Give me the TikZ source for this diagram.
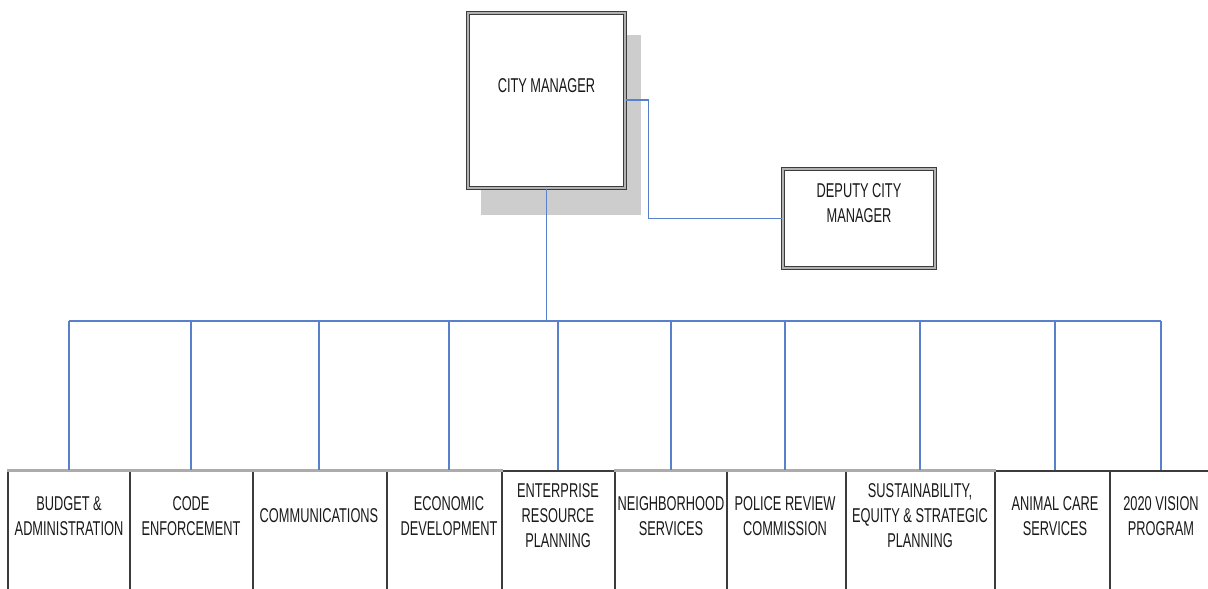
\documentclass[tikz,border=0pt]{standalone}
\usepackage{fontspec}
\setmainfont[FakeStretch=0.64]{Liberation Sans}
\begin{document}
\definecolor{linkblue}{RGB}{88,128,204}
\definecolor{frame}{RGB}{60,60,60}
\definecolor{cmshadow}{RGB}{205,205,205}
\begin{tikzpicture}[x=1pt,y=-1pt,
  lbl/.style={align=center,inner sep=0pt,font=\fontsize{20}{25}\selectfont,text=black!90},
  link/.style={draw=linkblue,line width=1.3pt},
  topbox/.style={draw=frame,fill=white,double=gray!60,double distance=2.2pt,line width=1.2pt,inner sep=0pt},
  unitbox/.style={draw=frame,line width=1.4pt,inner sep=0pt,minimum height=130pt},
  graytop/.style={draw=gray!65,line width=3pt}]
\useasboundingbox (0,0) rectangle (1208,589);
\clip (0,0) rectangle (1208,589);

% city manager with drop shadow
\fill[cmshadow] (481,35) rectangle (641,215);
\node[topbox,minimum width=157pt,minimum height=175pt] (cm) at (546.5,100.5) {};
\node[lbl] (cmt) at (546.5,86) {CITY MANAGER};

% deputy
\node[topbox,minimum width=152pt,minimum height=99pt] (dcm) at (859,218.5) {};
\node[lbl] (dcmt) at (859,203) {DEPUTY CITY\\MANAGER};

% units: boxes run past the lower edge
\node[unitbox,minimum width=122pt] (b1) at (69,536) {};
\node[unitbox,minimum width=123pt] (b2) at (191.5,536) {};
\node[unitbox,minimum width=134pt] (b3) at (320,536) {};
\node[unitbox,minimum width=115pt] (b4) at (444.5,536) {};
\node[unitbox,minimum width=113pt] (b5) at (558.5,536) {};
\node[unitbox,minimum width=112pt] (b6) at (671,536) {};
\node[unitbox,minimum width=119pt] (b7) at (786.5,536) {};
\node[unitbox,minimum width=149pt] (b8) at (920.5,536) {};
\node[unitbox,minimum width=115pt] (b9) at (1052.5,536) {};
\node[unitbox,minimum width=100pt] (b10) at (1160,536) {};

\foreach \b in {b1,b2,b3,b4,b6,b7,b8}
  \draw[graytop] (\b.north west) -- (\b.north east);

\node[lbl] (t1) at (69,516) {BUDGET \&\\ADMINISTRATION};
\node[lbl] (t2) at (191,516) {CODE\\ENFORCEMENT};
\node[lbl] (t3) at (319,516) {COMMUNICATIONS};
\node[lbl] (t4) at (449,516) {ECONOMIC\\DEVELOPMENT};
\node[lbl] (t5) at (558,516) {ENTERPRISE\\RESOURCE\\PLANNING};
\node[lbl] (t6) at (671,516) {NEIGHBORHOOD\\SERVICES};
\node[lbl] (t7) at (785,516) {POLICE REVIEW\\COMMISSION};
\node[lbl] (t8) at (920,516) {SUSTAINABILITY,\\EQUITY \& STRATEGIC\\PLANNING};
\node[lbl] (t9) at (1055,516) {ANIMAL CARE\\SERVICES};
\node[lbl] (t10) at (1161,516) {2020 VISION\\PROGRAM};

% connectors
\coordinate (bus) at (0,321);
\draw[link] (cm.east |- 0,100) -- ++(23,0) |- (dcm.west);
\draw[link] (cm.south) -- (cm.south |- bus);
\draw[link] (t1 |- bus) -- (t10 |- bus);
\draw[link] (t1 |- bus) -- (t1 |- b1.north);
\draw[link] (t2 |- bus) -- (t2 |- b2.north);
\draw[link] (t3 |- bus) -- (t3 |- b3.north);
\draw[link] (t4 |- bus) -- (t4 |- b4.north);
\draw[link] (t5 |- bus) -- (t5 |- b5.north);
\draw[link] (t6 |- bus) -- (t6 |- b6.north);
\draw[link] (t7 |- bus) -- (t7 |- b7.north);
\draw[link] (t8 |- bus) -- (t8 |- b8.north);
\draw[link] (t9 |- bus) -- (t9 |- b9.north);
\draw[link] (t10 |- bus) -- (t10 |- b10.north);
\end{tikzpicture}
\end{document}
